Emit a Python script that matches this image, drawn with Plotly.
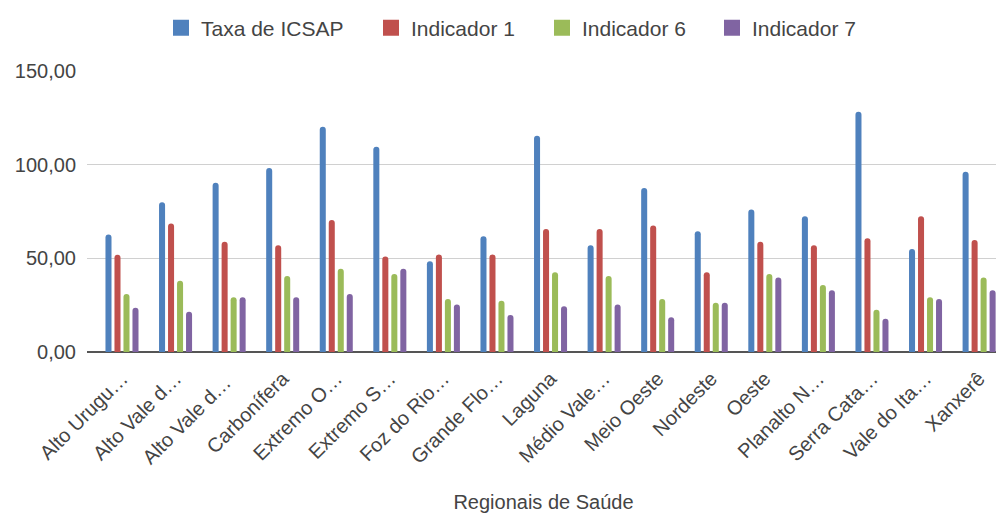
import plotly.graph_objects as go

regionais = ["Alto Urugu…", "Alto Vale d…", "Alto Vale d… ", "Carbonífera", "Extremo O…",
             "Extremo S…", "Foz do Rio…", "Grande Flo…", "Laguna", "Médio Vale…",
             "Meio Oeste", "Nordeste", "Oeste", "Planalto N…", "Serra Cata…",
             "Vale do Ita…", "Xanxerê"]

taxa_icsap = [62.7, 79.9, 90.3, 98.2, 120.2, 109.5, 48.4, 61.8, 115.4, 57.0,
              87.6, 64.5, 76.1, 72.4, 128.3, 55.0, 96.2]
indicador_1 = [51.9, 68.6, 58.9, 57.0, 70.4, 51.0, 52.1, 52.1, 65.6, 65.6,
               67.5, 42.6, 58.9, 57.0, 60.7, 72.4, 59.8]
indicador_6 = [31.0, 38.0, 29.2, 40.6, 44.4, 41.6, 28.3, 27.4, 42.6, 40.6,
               28.3, 26.3, 41.6, 35.8, 22.6, 29.2, 39.8]
indicador_7 = [23.6, 21.5, 29.2, 29.2, 31.0, 44.4, 25.3, 19.7, 24.4, 25.3,
               18.6, 26.3, 39.8, 33.0, 17.7, 28.3, 33.0]

series = [
    ("Taxa de ICSAP", taxa_icsap, "#4F81BD"),
    ("Indicador 1", indicador_1, "#C0504D"),
    ("Indicador 6", indicador_6, "#9BBB59"),
    ("Indicador 7", indicador_7, "#8064A2"),
]
# left edge of each legend entry (px), legend spread across the top
legend_left = [153, 363, 534, 704]

fig = go.Figure()
for i, (nome, valores, cor) in enumerate(series):
    fig.add_trace(go.Bar(x=regionais, y=valores, name=nome, marker_color=cor,
                         marker_line_width=0, showlegend=False))
    # legend-only entry with a bigger square swatch
    leg = "legend" if i == 0 else "legend%d" % (i + 1)
    fig.add_trace(go.Scatter(x=[None], y=[None], mode="markers", name=nome,
                             marker=dict(symbol="square", size=16, color=cor),
                             legend=leg))
    fig.update_layout({leg: dict(
        x=legend_left[i] / 1004, xref="container", xanchor="left",
        y=1 - 20 / 516, yref="container", yanchor="middle",
        font=dict(size=21, color="#444444"), itemsizing="trace",
        bgcolor="rgba(0,0,0,0)",
    )})

fig.update_layout(
    width=1004, height=516,
    margin=dict(l=79, r=12, t=63, b=172, autoexpand=False),
    paper_bgcolor="white", plot_bgcolor="white",
    font=dict(family="Liberation Sans, Arial", size=20, color="#444444"),
    separators=",.",
    barmode="group", bargap=0.328, bargroupgap=0.33, barcornerradius=3,
)

fig.update_xaxes(
    title=dict(text="Regionais de Saúde", font=dict(size=20, color="#444444"), standoff=27),
    tickangle=-45, tickfont=dict(size=20, color="#444444"),
    range=[-0.653, 16.39],
    showline=False, showgrid=False, ticks="", ticklabelstandoff=10,
)
fig.update_yaxes(
    range=[0, 150], tickvals=[0, 50, 100, 150], tickformat=".2f",
    tickfont=dict(size=20, color="#444444"),
    showgrid=True, gridcolor="#d0d0d0", gridwidth=1,
    zeroline=True, zerolinecolor="#555555", zerolinewidth=2,
    ticks="", ticklabelstandoff=10,
)

fig.write_html("out.html")
